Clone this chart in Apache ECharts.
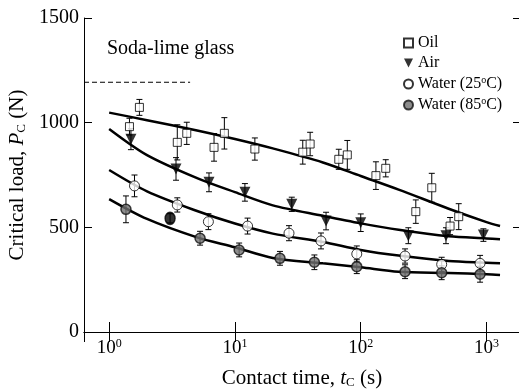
<!DOCTYPE html>
<html><head><meta charset="utf-8">
<script src="https://cdn.jsdelivr.net/npm/echarts@6/dist/echarts.min.js"></script>
<style>html,body{margin:0;padding:0;background:#fff}#c{width:519px;height:389px}</style>
</head><body><div id="c"></div>
<script>
// ---- data ----
const xTickExps = [0, 1, 2, 3];
const yTicks = [0, 500, 1000, 1500];

const oilT = [1.45, 1.74, 3.48, 4.14, 6.82, 8.24, 14.4, 34.6, 39.6, 66.9, 78.2, 132, 158, 274, 367, 513, 601];
const oilP = [981, 1073, 906, 949, 882, 949, 874, 859, 898, 825, 846, 747, 782, 575, 689, 506, 551];
const oilE = [40, 38, 84, 53, 66, 75, 53, 57, 56, 48, 69, 66, 41, 56, 69, 41, 62];

const airT = [1.49, 3.40, 6.22, 12.0, 28.3, 53, 100, 239, 476, 944];
const airP = [921, 779, 715, 667, 610, 530, 522, 460, 460, 463];
const airE = [50, 54, 45, 42, 34, 42, 42, 38, 38, 30];

const w25T = [1.59, 3.48, 6.15, 12.6, 26.9, 48.3, 93, 225, 440, 888];
const w25P = [698, 607, 527, 506, 472, 435, 373, 363, 323, 328];
const w25E = [52, 34, 38, 38, 36, 38, 38, 34, 34, 38];

const w85T = [1.36, 3.05, 5.28, 10.8, 22.8, 42.8, 93, 225, 440, 888];
const w85P = [586, 543, 448, 392, 352, 333, 312, 288, 283, 276];
const w85E = [64, 22, 33, 33, 33, 35, 33, 33, 33, 38];
const w85BlackIndex = 1;

const fitT   = [1, 2, 5, 10, 20, 50, 100, 200, 500, 1000, 1280];
const oilFit = [1048, 1012, 963, 922, 877, 810, 745, 680, 589, 525, 506];
const airFit = [970, 845, 735, 668, 605, 555, 519, 488, 457, 447, 443];
const w25Fit = [774, 672, 578, 518, 470, 430, 392, 365, 339, 331, 328];
const w85Fit = [635, 540, 452, 405, 354, 328, 309, 288, 282, 276, 272];

const refT = [0.631, 4.4];
const refP = [1193, 1193];

const X_MIN = 0.631, X_MAX = 1845;

// ---- chart ----
const FONT = 'Liberation Serif';
const chart = echarts.init(document.getElementById('c'), null, {renderer: 'canvas'});

function pairs(t, p) { return t.map((v, i) => [v, p[i]]); }

function errSeries(t, p, e, name) {
  return {
    type: 'custom', name: name + ' err', silent: true, z: 3,
    data: t.map((v, i) => [v, p[i] - e[i], p[i] + e[i]]),
    encode: {x: 0, y: [1, 2]},
    renderItem: function (params, api) {
      const lo = api.coord([api.value(0), api.value(1)]);
      const hi = api.coord([api.value(0), api.value(2)]);
      const w = 3;
      const st = {stroke: '#000', lineWidth: 1};
      return {type: 'group', children: [
        {type: 'line', shape: {x1: lo[0], y1: lo[1], x2: hi[0], y2: hi[1]}, style: st},
        {type: 'line', shape: {x1: lo[0] - w, y1: lo[1], x2: lo[0] + w, y2: lo[1]}, style: st},
        {type: 'line', shape: {x1: hi[0] - w, y1: hi[1], x2: hi[0] + w, y2: hi[1]}, style: st}
      ]};
    }
  };
}

function fitSeries(p) {
  return {type: 'line', data: pairs(fitT, p), smooth: 0.3, symbol: 'none', silent: true, z: 2,
    lineStyle: {color: '#000', width: 2.5}};
}

const w85Data = pairs(w85T, w85P).map((d, i) => i === w85BlackIndex
  ? {value: d, itemStyle: {color: '#000', borderColor: '#000'}, symbolSize: [10, 12]} : d);

const subRich = {
  i: {fontFamily: FONT, fontStyle: 'italic', fontSize: 21, color: '#000'},
  sub: {fontFamily: FONT, fontSize: 13, color: '#000', verticalAlign: 'bottom', padding: [8, 0, 0, 0]}
};

chart.setOption({
  animation: false,
  backgroundColor: '#fff',
  grid: {left: 84, top: 18, width: 436, height: 314, outerBoundsMode: 'none', containLabel: false},
  title: {text: 'Soda-lime glass', left: 107, top: 39, padding: 0,
    textStyle: {fontFamily: FONT, fontSize: 20, fontWeight: 'normal', color: '#000'}},
  legend: {
    orient: 'vertical', left: 398, top: 30, itemWidth: 9, itemHeight: 9, itemGap: 4,
    data: ['Oil', 'Air', 'Water (25°C)', 'Water (85°C)'],
    formatter: function (n) { return n.replace('°', '{s|o}'); },
    textStyle: {fontFamily: FONT, fontSize: 16, color: '#000',
      rich: {s: {fontFamily: FONT, fontSize: 10, color: '#000', padding: [0, 0, 8, 0]}}}
  },
  xAxis: [{
    type: 'log', min: X_MIN, max: X_MAX, position: 'bottom',
    axisLine: {lineStyle: {color: '#000', width: 1}},
    axisTick: {inside: true, length: 10, lineStyle: {color: '#000'}},
    minorTick: {show: false}, splitLine: {show: false},
    axisLabel: {
      margin: 6, color: '#000', showMinLabel: false, showMaxLabel: false,
      formatter: function (v) {
        const l = Math.log10(v), e = Math.round(l);
        if (Math.abs(l - e) > 1e-6 || xTickExps.indexOf(e) < 0) return '';
        return '{b|10}{e|' + e + '}';
      },
      rich: {
        b: {fontFamily: FONT, fontSize: 19, color: '#000'},
        e: {fontFamily: FONT, fontSize: 12, color: '#000', padding: [0, 0, 9, 0]}
      }
    },
    name: 'Contact time, {i|t}{sub|C} (s)', nameLocation: 'middle', nameGap: 36,
    nameTextStyle: {fontFamily: FONT, fontSize: 21, color: '#000', rich: subRich}
  }, {
    type: 'log', min: X_MIN, max: X_MAX, position: 'top',
    axisLine: {lineStyle: {color: '#000', width: 1}},
    axisTick: {inside: true, length: 10, lineStyle: {color: '#000'}},
    minorTick: {show: false}, splitLine: {show: false}, axisLabel: {show: false}
  }],
  yAxis: [{
    type: 'value', min: yTicks[0], max: yTicks[yTicks.length - 1], interval: 500, position: 'left',
    axisLine: {show: true, lineStyle: {color: '#000', width: 1}},
    axisTick: {show: true, inside: true, length: 8, lineStyle: {color: '#000'}},
    splitLine: {show: false},
    axisLabel: {margin: 5, color: '#000', fontFamily: FONT, fontSize: 20,
      formatter: function (v) { return yTicks.indexOf(v) >= 0 ? String(v) : ''; }},
    name: 'Critical load, {i|P}{sub|C} (N)', nameLocation: 'middle', nameGap: 45,
    nameTextStyle: {fontFamily: FONT, fontSize: 21, color: '#000', rich: subRich}
  }, {
    type: 'value', min: yTicks[0], max: yTicks[yTicks.length - 1], interval: 500, position: 'right',
    axisLine: {show: false},
    axisTick: {show: true, inside: true, length: 7, lineStyle: {color: '#000'}},
    splitLine: {show: false}, axisLabel: {show: false}
  }],
  series: [
    {type: 'line', data: pairs(refT, refP), symbol: 'none', silent: true, z: 2,
      lineStyle: {color: '#000', width: 1, type: [5, 3]}},
    fitSeries(oilFit), fitSeries(airFit), fitSeries(w25Fit), fitSeries(w85Fit),
    errSeries(oilT, oilP, oilE, 'Oil'), errSeries(airT, airP, airE, 'Air'),
    errSeries(w25T, w25P, w25E, 'Water (25°C)'), errSeries(w85T, w85P, w85E, 'Water (85°C)'),
    {type: 'scatter', name: 'Oil', data: pairs(oilT, oilP), symbol: 'rect', symbolSize: 8, z: 4,
      itemStyle: {color: '#fff', borderColor: '#000', borderWidth: 1}},
    {type: 'scatter', name: 'Air', data: pairs(airT, airP), symbol: 'path://M0,0L10,0L5,10Z', symbolSize: [11, 11], z: 4,
      itemStyle: {color: '#000'}},
    {type: 'scatter', name: 'Water (25°C)', data: pairs(w25T, w25P), symbol: 'circle', symbolSize: 10, z: 4,
      itemStyle: {color: '#fff', borderColor: '#000', borderWidth: 1}},
    {type: 'scatter', name: 'Water (85°C)', data: w85Data, symbol: 'circle', symbolSize: 10, z: 4,
      itemStyle: {color: '#707070', borderColor: '#111', borderWidth: 1.5}}
  ]
});
</script></body></html>
